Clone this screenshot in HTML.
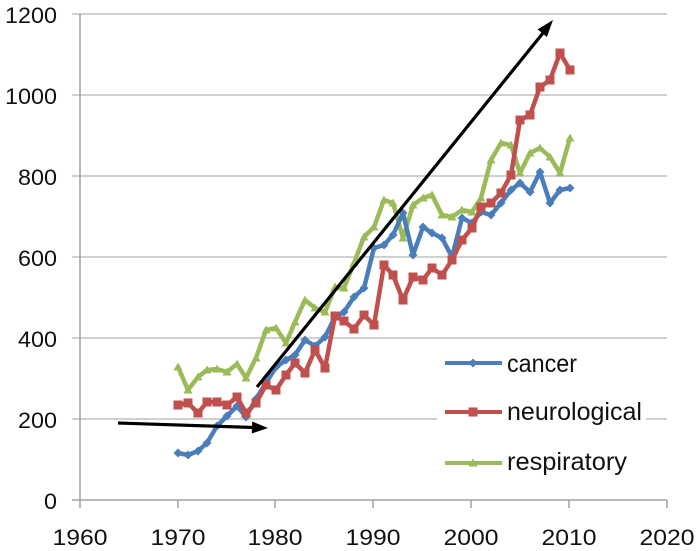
<!DOCTYPE html>
<html><head><meta charset="utf-8">
<style>
html,body{margin:0;padding:0;background:#fff;}
svg{display:block;}
text{font-family:"Liberation Sans",Arial,sans-serif;fill:#111;}
</style></head>
<body>
<svg width="700" height="551" viewBox="0 0 700 551" xmlns="http://www.w3.org/2000/svg">
<defs>
<marker id="mb" markerUnits="userSpaceOnUse" markerWidth="12" markerHeight="12" refX="6" refY="6"><path d="M6 1.5 L10.5 6 L6 10.5 L1.5 6Z" fill="#4a7ebb"/></marker>
<marker id="mr" markerUnits="userSpaceOnUse" markerWidth="12" markerHeight="12" refX="6" refY="6"><rect x="1.5" y="1.5" width="9" height="9" fill="#c0504d"/></marker>
<marker id="mg" markerUnits="userSpaceOnUse" markerWidth="12" markerHeight="12" refX="6" refY="6"><path d="M6 1.5 L10.5 9.5 L1.5 9.5Z" fill="#9bbb59"/></marker>
</defs>
<!-- gridlines -->
<g stroke="#c0c0c0" stroke-width="1.5">
<line x1="72" y1="14" x2="667" y2="14"/>
<line x1="72" y1="95" x2="667" y2="95"/>
<line x1="72" y1="176" x2="667" y2="176"/>
<line x1="72" y1="257" x2="667" y2="257"/>
<line x1="72" y1="338" x2="667" y2="338"/>
<line x1="72" y1="419" x2="667" y2="419"/>
</g>
<!-- axes -->
<g stroke="#a0a0a0" stroke-width="1.5">
<line x1="80" y1="14" x2="80" y2="508"/>
<line x1="72" y1="500" x2="667" y2="500"/>
<line x1="178" y1="500" x2="178" y2="508"/>
<line x1="275" y1="500" x2="275" y2="508"/>
<line x1="373" y1="500" x2="373" y2="508"/>
<line x1="471" y1="500" x2="471" y2="508"/>
<line x1="569" y1="500" x2="569" y2="508"/>
<line x1="667" y1="500" x2="667" y2="508"/>
</g>
<!-- y labels -->
<g font-size="22" text-anchor="end">
<text x="57" y="23" textLength="52" lengthAdjust="spacingAndGlyphs">1200</text>
<text x="57" y="104" textLength="52" lengthAdjust="spacingAndGlyphs">1000</text>
<text x="57" y="185" textLength="39" lengthAdjust="spacingAndGlyphs">800</text>
<text x="57" y="266" textLength="39" lengthAdjust="spacingAndGlyphs">600</text>
<text x="57" y="347" textLength="39" lengthAdjust="spacingAndGlyphs">400</text>
<text x="57" y="428" textLength="39" lengthAdjust="spacingAndGlyphs">200</text>
<text x="57" y="509" textLength="13" lengthAdjust="spacingAndGlyphs">0</text>
</g>
<!-- x labels -->
<g font-size="22" text-anchor="middle">
<text x="80" y="545" textLength="55" lengthAdjust="spacingAndGlyphs">1960</text>
<text x="178" y="545" textLength="55" lengthAdjust="spacingAndGlyphs">1970</text>
<text x="275" y="545" textLength="55" lengthAdjust="spacingAndGlyphs">1980</text>
<text x="373" y="545" textLength="55" lengthAdjust="spacingAndGlyphs">1990</text>
<text x="471" y="545" textLength="55" lengthAdjust="spacingAndGlyphs">2000</text>
<text x="569" y="545" textLength="55" lengthAdjust="spacingAndGlyphs">2010</text>
<text x="667" y="545" textLength="55" lengthAdjust="spacingAndGlyphs">2020</text>
</g>
<!-- series -->
<polyline fill="none" stroke="#9bbb59" stroke-width="4.5" stroke-linejoin="round" marker-start="url(#mg)" marker-mid="url(#mg)" marker-end="url(#mg)"
points="178,367 188,390 198,377 207,370 217,369 227,372 237,364 246,378 256,358 266,330 276,328 286,343 295,322 305,300 315,308 325,312 335,287 344,288 354,263 364,237 374,227 384,200 393,203 403,238 413,205 423,198 432,195 442,215 452,217 462,210 472,212 481,198 491,160 501,143 511,145 520,173 530,153 540,148 550,157 560,173 570,138"/>
<polyline fill="none" stroke="#4a7ebb" stroke-width="4.5" stroke-linejoin="round" marker-start="url(#mb)" marker-mid="url(#mb)" marker-end="url(#mb)"
points="178,453 188,455 198,451 207,443 217,426 227,416 237,406 246,417 256,399 266,383 276,367 286,360 295,355 305,340 315,346 325,337 335,317 344,312 354,297 364,288 374,248 384,245 393,235 403,213 413,255 423,227 432,233 442,238 452,257 462,218 472,223 481,212 491,215 501,203 511,190 520,183 530,192 540,172 550,203 560,190 570,188"/>
<polyline fill="none" stroke="#c0504d" stroke-width="4.5" stroke-linejoin="round" marker-start="url(#mr)" marker-mid="url(#mr)" marker-end="url(#mr)"
points="178,405 188,403 198,413 207,402 217,402 227,405 237,397 246,413 256,403 266,385 276,390 286,375 295,363 305,373 315,350 325,368 335,316 344,321 354,329 364,315 374,325 384,265 393,275 403,300 413,277 423,280 432,268 442,275 452,260 462,240 472,228 481,207 491,203 501,193 511,175 520,120 530,115 540,87 550,80 560,53 570,70"/>
<!-- legend -->
<rect x="437" y="342" width="209" height="144" fill="#fff"/>
<polyline points="445,363 473,363 502,363" fill="none" stroke="#4a7ebb" stroke-width="4" marker-mid="url(#mb)"/>
<polyline points="445,412 473,412 502,412" fill="none" stroke="#c0504d" stroke-width="4" marker-mid="url(#mr)"/>
<polyline points="445,463 473,463 502,463" fill="none" stroke="#9bbb59" stroke-width="4" marker-mid="url(#mg)"/>
<g font-size="25">
<text x="507" y="372" textLength="70" lengthAdjust="spacingAndGlyphs">cancer</text>
<text x="507" y="420" textLength="135" lengthAdjust="spacingAndGlyphs">neurological</text>
<text x="507" y="470" textLength="120" lengthAdjust="spacingAndGlyphs">respiratory</text>
</g>
<!-- arrows -->
<line x1="118" y1="423" x2="254" y2="427.5" stroke="#000" stroke-width="3.2"/>
<polygon points="268,428 252.2,421.5 251.8,433.5" fill="#000"/>
<line x1="257" y1="387" x2="543" y2="33" stroke="#000" stroke-width="3.2"/>
<polygon points="553,20 546.9,37 537.6,29.4" fill="#000"/>
</svg>
</body></html>
